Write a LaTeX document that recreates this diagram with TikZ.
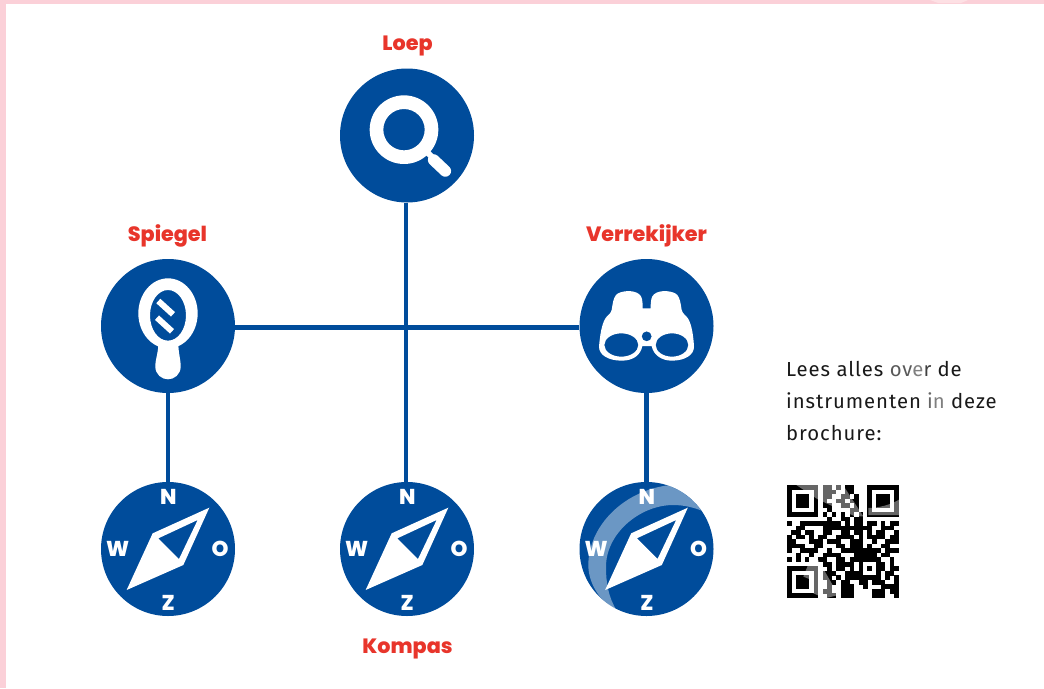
\documentclass[tikz,border=0pt]{standalone}
\usepackage{fontspec}
\setmainfont{Fira Sans}[LetterSpace=4.6]
\newfontfamily\headfont{Poppins ExtraBold}
\definecolor{kblue}{HTML}{004C9B}
\definecolor{kred}{HTML}{E8352B}
\definecolor{kpink}{HTML}{FBD0D8}
\definecolor{kpale}{HTML}{FDE0E4}
\tikzset{
  disc/.style={circle,fill=kblue,minimum size=134pt,inner sep=0pt,draw=none},
  link/.style={draw=kblue,line width=4.3pt},
  title/.style={font=\headfont\fontsize{20.7}{21}\selectfont,text=kred,inner sep=0pt,anchor=base},
  dirn/.style={font=\headfont\fontsize{21.5}{21}\selectfont,text=white,inner sep=0pt,anchor=center},
  body/.style={font=\fontsize{20.3}{20}\selectfont,text=black!90,inner sep=0pt,anchor=base west},
  icon/.style={x=0.33333pt,y=-0.33333pt}
}
\newcommand{\needle}{%
  \fill[white,even odd rule] (358,113) -- (188,190) -- (110,360) -- (280,285) -- cycle
     (323,150) -- (205,205) -- (267,267) -- cycle;
}
\newcommand{\compasslabels}[1]{%
  \node[dirn] (#1n) at (235,80) {N};
  \node[dirn] (#1w) at (83,238) {W};
  \node[dirn] (#1o) at (390,238) {O};
  \node[dirn] (#1z) at (235,398) {Z};
}
\newcount\qrcol
\newcount\qrrownum
\def\qrrow#1{\qrcol=0 \qrscan#1\relax\advance\qrrownum by 1 }
\def\qrscan#1{\ifx#1\relax\else
  \if1#1\fill[black] (\the\qrcol,\the\qrrownum) rectangle ++(1.03,1.03);\fi
  \advance\qrcol by 1 \expandafter\qrscan\fi}
\begin{document}
\begin{tikzpicture}[x=1pt,y=-1pt]
\useasboundingbox (0,0) rectangle (1044,688);
\fill[white] (0,0) rectangle (1044,688);
\fill[kpink] (0,0) rectangle (6,688);
\fill[kpink] (0,0) rectangle (1044,4);
\fill[kpale] (930,0) -- (968,0) -- (961,3) -- (938,3) -- cycle;

\node[disc] (loep) at (407,135.5) {};
\node[disc] (spiegel) at (168,326) {};
\node[disc] (verre) at (646.5,326) {};
\node[disc] (kompasL) at (168,549) {};
\node[disc] (kompasM) at (407,549) {};
\node[disc] (kompasR) at (646.5,549) {};

\draw[link] ([xshift=-1pt]loep.south) -- ([xshift=-1pt]kompasM.north);
\draw[link] ([yshift=-1.5pt]spiegel.east) -- ([yshift=-1.5pt]verre.west);
\draw[link] (spiegel.south) -- (kompasL.north);
\draw[link] (verre.south) -- (kompasR.north);

\node[title] (tloep) at (407.5,50) {Loep};
\node[title] (tspiegel) at (167.5,241) {Spiegel};
\node[title] (tverre) at (646.5,241) {Verrekijker};
\node[title] (tkompas) at (407.5,653) {Kompas};

% magnifier
\begin{scope}[shift={(320,20)},icon]
\fill[white,even odd rule] (252,329) circle[radius=103] (252,329) circle[radius=62];
\draw[white,line width=6pt] (320,395) -- (345,420);
\draw[white,line width=11.5pt,line cap=round] (341,420) -- (376,453);
\end{scope}

% mirror
\begin{scope}[shift={(90,215)},icon]
\fill[white,even odd rule] (234,295) ellipse[x radius=89,y radius=105] (234,301) ellipse[x radius=54,y radius=76];
\fill[white] (205,385) .. controls (205,415) and (196,430) .. (196,455)
  .. controls (196,478) and (215,493) .. (234,493)
  .. controls (253,493) and (272,478) .. (272,455)
  .. controls (272,430) and (265,415) .. (265,385) -- cycle;
\draw[white,line width=6pt] (205,258) -- (249,298);
\draw[white,line width=6pt] (201,308) -- (246,349);
\end{scope}

% binoculars
\begin{scope}[shift={(570,215)},icon]
\fill[white,even odd rule]
  (155,437) .. controls (115,437) and (87,420) .. (87,395)
  .. controls (90,360) and (95,330) .. (105,312)
  .. controls (110,302) and (122,298) .. (125,285)
  .. controls (128,265) and (130,250) .. (138,240)
  .. controls (148,228) and (190,222) .. (208,238)
  .. controls (216,245) and (218,255) .. (218,280)
  -- (242,280)
  .. controls (242,255) and (244,245) .. (252,238)
  .. controls (270,222) and (312,228) .. (322,240)
  .. controls (330,250) and (332,265) .. (335,285)
  .. controls (338,298) and (350,302) .. (355,312)
  .. controls (365,330) and (370,360) .. (372,395)
  .. controls (372,420) and (345,437) .. (305,437)
  .. controls (275,437) and (250,420) .. (245,393)
  -- (217,393)
  .. controls (212,420) and (190,437) .. (155,437) -- cycle
  (154,390) ellipse[x radius=51,y radius=35]
  (306,390) ellipse[x radius=49,y radius=35]
  (230,364) circle[radius=15];
\end{scope}

% compasses
\begin{scope}[shift={(90,470)},icon]
\needle
\compasslabels{a}
\end{scope}
\begin{scope}[shift={(329,470)},icon]
\needle
\compasslabels{b}
\end{scope}
\begin{scope}[shift={(570,470)},icon]
\clip (229,237) circle[radius=201];
\fill[white,opacity=0.42]
  (302,45) .. controls (160,60) and (55,170) .. (55,285)
  .. controls (55,340) and (90,395) .. (140,422)
  .. controls (115,380) and (108,340) .. (108,290)
  .. controls (108,190) and (210,105) .. (310,105)
  .. controls (340,105) and (370,112) .. (395,122)
  -- (430,100) -- (340,10) -- cycle;
\end{scope}
\begin{scope}[shift={(568.5,470)},icon]
\needle
\compasslabels{c}
\end{scope}

% text
\node[body] (l1) at (786,376.5) {Lees alles {\color{black!65}ov}{\color{black!50}e}{\color{black!75}r} de};
\node[body] (l2) at (786,408.5) {instrumenten {\color{black!60}i}{\color{black!50}n} deze};
\node[body] (l3) at (786,440.5) {brochure:};

% QR
\begin{scope}[shift={(787,485)},x=4.47pt,y=-4.52pt]
\qrrownum=0
\qrrow{1111111011010110001111111}
\qrrow{1000001011100110001000001}
\qrrow{1011101011001101001011101}
\qrrow{1011101010011011001011101}
\qrrow{1011101011001101001011101}
\qrrow{1000001001000011001000001}
\qrrow{1111111010101010101111111}
\qrrow{0000000001001101100000000}
\qrrow{1001111111110101101101011}
\qrrow{0011000011111111111001110}
\qrrow{0110110011001101101011001}
\qrrow{1011010110011110101111011}
\qrrow{1100011101110011100100111}
\qrrow{1111001100011011101001100}
\qrrow{1001111001001111111110111}
\qrrow{0010010011110001111101100}
\qrrow{1010100110011011111110010}
\qrrow{0000000011011110100011010}
\qrrow{1111111001011010101011011}
\qrrow{1000001011100111100010110}
\qrrow{1011101011010111111110101}
\qrrow{1011101001101100110111001}
\qrrow{1011101001001110010001111}
\qrrow{1000001011001110000111011}
\qrrow{1111111001101110000111001}
\end{scope}
\begin{scope}[shift={(785,483)},icon]
\clip (6,6) rectangle (342,345);
\fill[white,opacity=0.4] (25,0) -- (170,0) -- (235,100) -- (210,100) -- (100,50) -- cycle;
\fill[white,opacity=0.4] (250,75) .. controls (280,75) and (320,65) .. (345,48) -- (345,96) -- (250,96) -- cycle;
\fill[white,opacity=0.4] (55,281) -- (75,231) -- (100,231) -- (160,336) -- (120,346) -- (85,331) -- (80,291) -- cycle;
\end{scope}
\end{tikzpicture}
\end{document}
